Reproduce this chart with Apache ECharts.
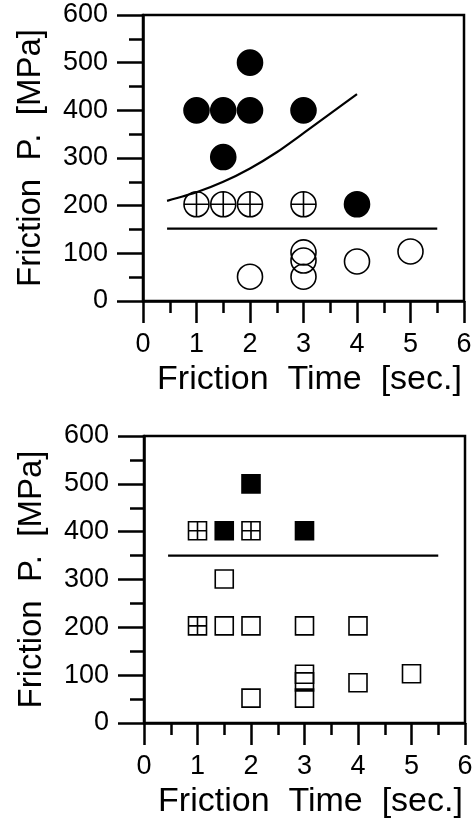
<!DOCTYPE html>
<html>
<head>
<meta charset="utf-8">
<script src="https://cdn.jsdelivr.net/npm/echarts@6/dist/echarts.min.js"></script>
<style>
  html, body { margin: 0; padding: 0; background: #fff; }
  #chart { width: 474px; height: 822px; }
</style>
</head>
<body>
<div id="chart"></div>
<script>
// tick labels
const xTicks = [0, 1, 2, 3, 4, 5, 6];
const yTicks = [0, 100, 200, 300, 400, 500, 600];

// upper panel: [friction time, friction pressure]
const topFilled = [[1, 400], [1.5, 400], [2, 400], [2, 500], [3, 400], [1.5, 302], [4, 203]];
const topCrossed = [[1, 203], [1.5, 203], [2, 203], [3, 203]];
const topOpen = [[2, 51], [3, 102], [3, 85], [3, 51], [4, 83], [5, 104]];
const topCurve = [[0.45, 210], [1, 228], [1.5, 250], [2, 278], [2.5, 312], [3, 352], [3.5, 393], [4, 434]];
const topLimit = [[0.45, 152], [5.5, 152]];

// lower panel
const botFilled = [[2, 500], [1.5, 402], [3, 402]];
const botCrossed = [[1, 402], [2, 402], [1, 203]];
const botOpen = [[1.5, 301], [1.5, 203], [2, 203], [3, 203], [4, 203],
  [2, 52], [3, 102], [3, 86], [3, 52], [4, 84], [5, 103]];
const botLimit = [[0.45, 350], [5.5, 350]];

const FONT = "'Liberation Sans', Arial, sans-serif";
const INK = "#000";

const CROSS_CIRCLE = "path://M-10 0A10 10 0 1 0 10 0A10 10 0 1 0 -10 0ZM0 -10L0 10M-10 0L10 0";
const CROSS_SQUARE = "path://M0 0H20V20H0ZM10 0V20M0 10H20";

const chart = echarts.init(document.getElementById("chart"), null, { renderer: "canvas" });

function xAxis(gridIndex) {
  return {
    gridIndex,
    type: "value",
    min: 0,
    max: 6,
    interval: 1,
    name: "Friction  Time  [sec.]",
    nameLocation: "middle",
    nameGap: 62,
    nameTextStyle: { color: INK, fontFamily: FONT, fontSize: 34, padding: [0, 0, 0, 12] },
    axisLine: { onZero: false, lineStyle: { color: INK, width: 2.5 } },
    axisTick: { length: 22, lineStyle: { color: INK, width: 2.5 } },
    minorTick: { show: true, splitNumber: 2, length: 12, lineStyle: { color: INK, width: 2.5 } },
    axisLabel: {
      color: INK, fontFamily: FONT, fontSize: 27, margin: 30, hideOverlap: false,
      formatter: (v) => (xTicks.includes(v) ? String(v) : ""),
    },
    splitLine: { show: false },
  };
}

function yAxis(gridIndex) {
  return {
    gridIndex,
    type: "value",
    min: 0,
    max: 600,
    interval: 100,
    name: "Friction  P.  [MPa]",
    nameLocation: "middle",
    nameRotate: 90,
    nameGap: 96,
    nameTextStyle: { color: INK, fontFamily: FONT, fontSize: 33 },
    axisLine: { onZero: false, lineStyle: { color: INK, width: 2.5 } },
    axisTick: { length: 26, lineStyle: { color: INK, width: 2.5 } },
    minorTick: { show: true, splitNumber: 2, length: 14, lineStyle: { color: INK, width: 2.5 } },
    axisLabel: {
      color: INK, fontFamily: FONT, fontSize: 27, margin: 35,
      formatter: (v) => (yTicks.includes(v) ? String(v) : ""),
    },
    splitLine: { show: false },
  };
}

function scatter(idx, data, symbol, size, fill) {
  return {
    type: "scatter",
    xAxisIndex: idx,
    yAxisIndex: idx,
    data,
    symbol,
    symbolSize: size,
    silent: true,
    itemStyle: { color: fill, borderColor: INK, borderWidth: 1.6, opacity: 1 },
  };
}

function line(idx, data, smooth) {
  return {
    type: "line",
    xAxisIndex: idx,
    yAxisIndex: idx,
    data,
    smooth,
    showSymbol: false,
    silent: true,
    lineStyle: { color: INK, width: 2.2 },
  };
}

const gridBase = {
  show: true,
  borderColor: INK,
  borderWidth: 2.5,
  backgroundColor: "transparent",
  containLabel: false,
  outerBoundsMode: "none",
};

chart.setOption({
  animation: false,
  backgroundColor: "#fff",
  grid: [
    Object.assign({ left: 143, top: 15, width: 321, height: 286 }, gridBase),
    Object.assign({ left: 144, top: 436, width: 321, height: 287 }, gridBase),
  ],
  xAxis: [xAxis(0), xAxis(1)],
  yAxis: [yAxis(0), yAxis(1)],
  series: [
    line(0, topCurve, 0.25),
    line(0, topLimit, false),
    scatter(0, topFilled, "circle", 25, INK),
    scatter(0, topCrossed, CROSS_CIRCLE, 25, "#fff"),
    scatter(0, topOpen, "circle", 25, "rgba(255,255,255,0)"),
    line(1, botLimit, false),
    scatter(1, botFilled, "rect", 18, INK),
    scatter(1, botCrossed, CROSS_SQUARE, 18, "#fff"),
    scatter(1, botOpen, "rect", 18, "rgba(255,255,255,0)"),
  ],
});
</script>
</body>
</html>
